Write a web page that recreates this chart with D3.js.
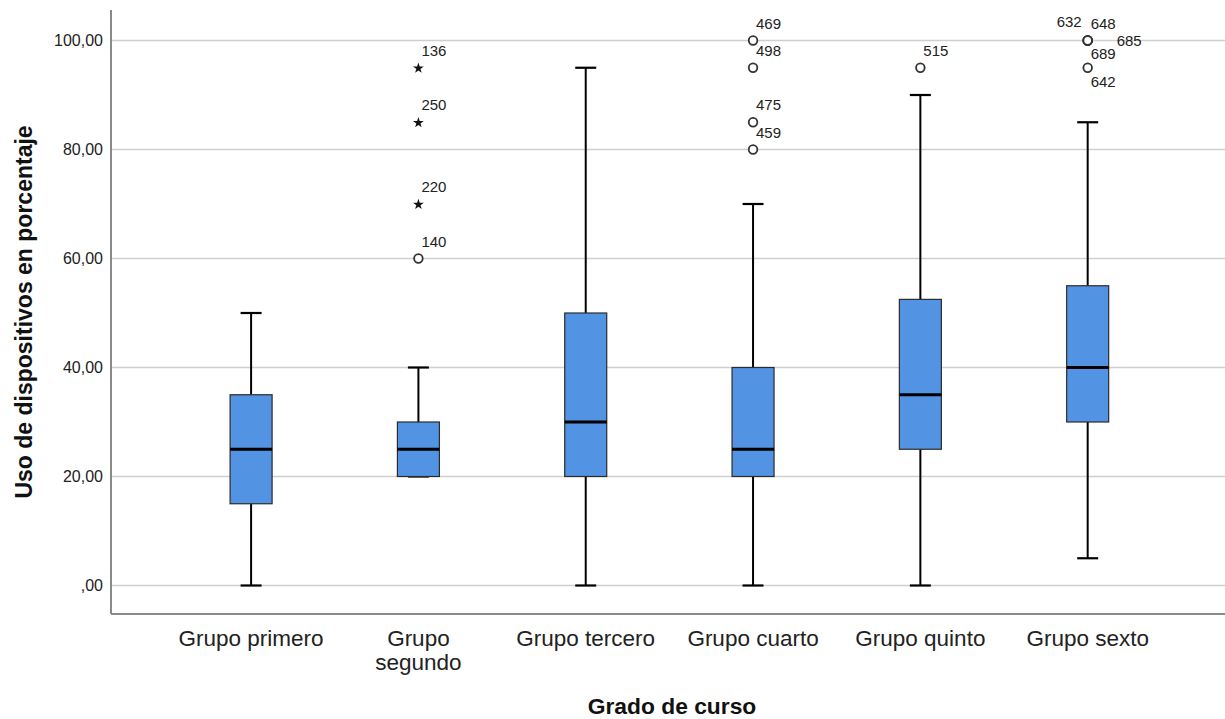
<!DOCTYPE html>
<html>
<head>
<meta charset="utf-8">
<script src="https://cdn.jsdelivr.net/npm/d3@7"></script>
<style>
  html, body { margin: 0; padding: 0; background: #fff; }
  svg { display: block; font-family: "Liberation Sans", Arial, sans-serif; }
</style>
</head>
<body>
<svg id="chart" width="1225" height="719"></svg>
<script>
// Grade groups and their five-number summaries (percentage of device use)
const categories = ["Grupo primero", "Grupo segundo", "Grupo tercero", "Grupo cuarto", "Grupo quinto", "Grupo sexto"];
const whiskerLow  = [0, 20, 0, 0, 0, 5];
const quartile1   = [15, 20, 20, 20, 25, 30];
const medians     = [25, 25, 30, 25, 35, 40];
const quartile3   = [35, 30, 50, 40, 52.5, 55];
const whiskerHigh = [50, 40, 95, 70, 90, 85];

// Outliers: group index, case id, value, kind ("o" mild, "*" extreme)
const outlierGroup = [1, 1, 1, 1, 3, 3, 3, 3, 4, 5, 5, 5, 5, 5];
const outlierCase  = ["136", "250", "220", "140", "469", "498", "475", "459", "515", "632", "648", "685", "689", "642"];
const outlierValue = [95, 85, 70, 60, 100, 95, 85, 80, 95, 100, 100, 100, 100, 95];
const outlierKind  = ["*", "*", "*", "o", "o", "o", "o", "o", "o", "o", "o", "o", "o", "o"];

const yTicks = [0, 20, 40, 60, 80, 100];
const yTickLabels = [",00", "20,00", "40,00", "60,00", "80,00", "100,00"];

const xTitle = "Grado de curso";
const yTitle = "Uso de dispositivos en porcentaje";

// ---- layout ----
const plotLeft = 111, plotRight = 1225, plotTop = 10, plotBottom = 614;

const svg = d3.select("#chart");

const x = d3.scalePoint()
  .domain(categories)
  .range([plotLeft, plotRight])
  .padding(0.829)
  .align(0.505);

const y = d3.scaleLinear()
  .domain([0, 100])
  .range([585.5, 40.5]);

const boxW = 42, capW = 21;

// gridlines
svg.append("g")
  .selectAll("line")
  .data(yTicks)
  .join("line")
  .attr("x1", plotLeft).attr("x2", plotRight)
  .attr("y1", d => y(d)).attr("y2", d => y(d))
  .attr("stroke", "#cfcfcf")
  .attr("stroke-width", 1.6);

// y axis tick labels
const yAxis = d3.axisLeft(y)
  .tickValues(yTicks)
  .tickFormat((d, i) => yTickLabels[i])
  .tickSize(0)
  .tickPadding(8);

const gy = svg.append("g")
  .attr("transform", `translate(${plotLeft},0)`)
  .call(yAxis);
gy.select(".domain").remove();
gy.selectAll("text")
  .attr("font-family", "Liberation Sans, Arial, sans-serif")
  .attr("font-size", 16)
  .attr("fill", "#222");

// x axis category labels (wrapped when too wide for the slot)
const xAxis = d3.axisBottom(x).tickSize(0).tickFormat("");
const gx = svg.append("g")
  .attr("transform", `translate(0,${plotBottom})`)
  .call(xAxis);
gx.select(".domain").remove();

const wrapAt = new Set(["Grupo segundo"]);
categories.forEach(c => {
  const t = svg.append("text")
    .attr("x", x(c))
    .attr("y", 646)
    .attr("text-anchor", "middle")
    .attr("font-size", 22.5)
    .attr("fill", "#222");
  if (wrapAt.has(c)) {
    c.split(" ").forEach((w, i) => {
      t.append("tspan").attr("x", x(c)).attr("dy", i === 0 ? 0 : 23.5).text(w);
    });
  } else {
    t.text(c);
  }
});

// axis lines
svg.append("line")
  .attr("x1", plotLeft).attr("x2", plotLeft)
  .attr("y1", plotTop).attr("y2", plotBottom)
  .attr("stroke", "#8a8a8a").attr("stroke-width", 2);
svg.append("line")
  .attr("x1", plotLeft).attr("x2", plotRight)
  .attr("y1", plotBottom).attr("y2", plotBottom)
  .attr("stroke", "#8a8a8a").attr("stroke-width", 2);

// boxes
const boxes = categories.map((c, i) => ({
  c, lo: whiskerLow[i], q1: quartile1[i], med: medians[i], q3: quartile3[i], hi: whiskerHigh[i]
}));

const bx = svg.append("g").selectAll("g").data(boxes).join("g");

// whiskers
bx.append("line")
  .attr("x1", d => x(d.c)).attr("x2", d => x(d.c))
  .attr("y1", d => y(d.q3)).attr("y2", d => y(d.hi))
  .attr("stroke", "#000").attr("stroke-width", 2);
bx.append("line")
  .attr("x1", d => x(d.c)).attr("x2", d => x(d.c))
  .attr("y1", d => y(d.q1)).attr("y2", d => y(d.lo))
  .attr("stroke", "#000").attr("stroke-width", 2);
// caps
bx.append("line")
  .attr("x1", d => x(d.c) - capW / 2).attr("x2", d => x(d.c) + capW / 2)
  .attr("y1", d => y(d.hi)).attr("y2", d => y(d.hi))
  .attr("stroke", "#000").attr("stroke-width", 2.2);
bx.append("line")
  .attr("x1", d => x(d.c) - capW / 2).attr("x2", d => x(d.c) + capW / 2)
  .attr("y1", d => y(d.lo)).attr("y2", d => y(d.lo))
  .attr("stroke", "#000").attr("stroke-width", 2.2);
// box
bx.append("rect")
  .attr("x", d => x(d.c) - boxW / 2)
  .attr("width", boxW)
  .attr("y", d => y(d.q3))
  .attr("height", d => y(d.q1) - y(d.q3))
  .attr("fill", "#5393e3")
  .attr("stroke", "#2b2b2b")
  .attr("stroke-width", 1.2);
// median
bx.append("line")
  .attr("x1", d => x(d.c) - boxW / 2).attr("x2", d => x(d.c) + boxW / 2)
  .attr("y1", d => y(d.med)).attr("y2", d => y(d.med))
  .attr("stroke", "#000").attr("stroke-width", 3);

// outliers
const outliers = outlierCase.map((id, i) => ({
  id, g: categories[outlierGroup[i]], v: outlierValue[i], kind: outlierKind[i]
}));

// label placement around the point (dx, dy, anchor); upper-right by default
const labelPlace = {
  "632": [-6, -14, "end"],
  "685": [29, 5, "start"],
  "689": [3, 18, "start"],
  "642": [3, 19, "start"]
};

const go = svg.append("g");
const star = d3.symbol().type(d3.symbolStar).size(36);
outliers.forEach(o => {
  const cx = x(o.g), cy = y(o.v);
  if (o.kind === "*") {
    go.append("path")
      .attr("d", star)
      .attr("transform", `translate(${cx},${cy + 0.5})`)
      .attr("fill", "#111");
  } else {
    go.append("circle")
      .attr("cx", cx).attr("cy", cy)
      .attr("r", 4.3)
      .attr("fill", "#fff")
      .attr("stroke", "#333")
      .attr("stroke-width", 1.8);
  }
  const p = labelPlace[o.id] || [3, -12, "start"];
  go.append("text")
    .attr("x", cx + p[0])
    .attr("y", cy + p[1])
    .attr("text-anchor", p[2])
    .attr("font-size", 15)
    .attr("fill", "#222")
    .text(o.id);
});

// axis titles
svg.append("text")
  .attr("x", (plotLeft + plotRight) / 2 + 4)
  .attr("y", 714)
  .attr("text-anchor", "middle")
  .attr("font-size", 22.8)
  .attr("font-weight", "bold")
  .attr("fill", "#111")
  .text(xTitle);

svg.append("text")
  .attr("transform", `translate(31.5,312) rotate(-90)`)
  .attr("text-anchor", "middle")
  .attr("font-size", 23)
  .attr("font-weight", "bold")
  .attr("fill", "#111")
  .text(yTitle);
</script>
</body>
</html>
